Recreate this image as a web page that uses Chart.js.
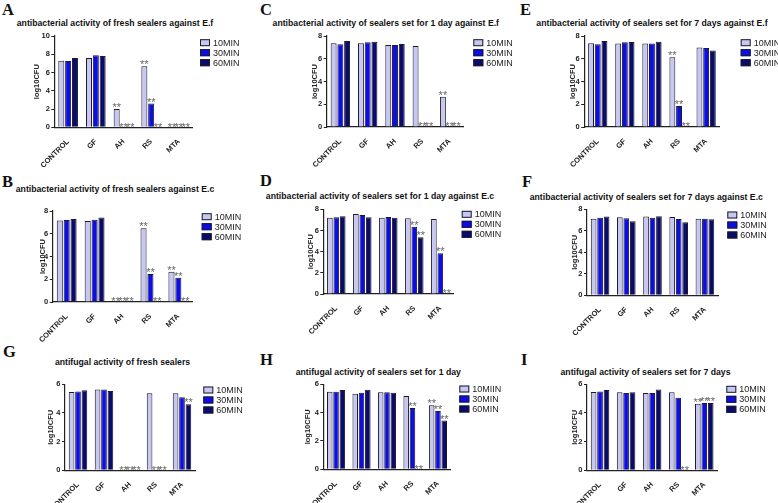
<!DOCTYPE html>
<html>
<head>
<meta charset="utf-8">
<script src="https://cdn.jsdelivr.net/npm/chart.js@4.4.0/dist/chart.umd.min.js"></script>
<style>
  html, body { margin: 0; padding: 0; background: #fff; }
  body { width: 778px; height: 503px; position: relative; overflow: hidden; font-family: "Liberation Sans", Arial, sans-serif; }
  .letter { position: absolute; font-family: "Liberation Serif", "Times New Roman", serif; font-weight: bold; font-size: 16.5px; line-height: 1; color: #111; }
  .title { position: absolute; font-weight: bold; font-size: 8.7px; line-height: 1; color: #111; white-space: nowrap; transform: translate(-50%, -50%); }
  canvas { position: absolute; }
</style>
</head>
<body>
<script>
// shared axis data
const categories = ['CONTROL', 'GF', 'AH', 'RS', 'MTA'];
const seriesNames = ['10MIN', '30MIN', '60MIN'];
const seriesNamesH = ['10MIIN', '30MIN', '60MIN']; // spelled this way in the source figure
const ticks10 = [0, 2, 4, 6, 8, 10];
const ticks8 = [0, 2, 4, 6, 8];
const ticks6 = [0, 2, 4, 6];

// A - fresh sealers, E.f
const a10 = [7.3, 7.6, 2.0, 6.7, 0];
const a30 = [7.25, 7.9, 0, 2.6, 0];
const a60 = [7.6, 7.8, 0, 0, 0];
const aStars = [[0, 0, 1, 1, 1], [0, 0, 1, 1, 1], [0, 0, 1, 1, 1]];

// B - fresh sealers, E.c
const b10 = [7.16, 7.13, 0, 6.48, 2.67];
const b30 = [7.2, 7.22, 0, 2.46, 2.14];
const b60 = [7.3, 7.42, 0, 0, 0];
const bStars = [[0, 0, 1, 1, 1], [0, 0, 1, 1, 1], [0, 0, 1, 1, 1]];

// C - 1 day, E.f
const c10 = [7.36, 7.36, 7.2, 7.13, 2.67];
const c30 = [7.27, 7.45, 7.2, 0, 0];
const c60 = [7.57, 7.5, 7.3, 0, 0];
const cStars = [[0, 0, 0, 0, 1], [0, 0, 0, 1, 1], [0, 0, 0, 1, 1]];

// D - 1 day, E.c
const d10 = [7.2, 7.56, 7.2, 7.15, 7.09];
const d30 = [7.24, 7.46, 7.28, 6.36, 3.84];
const d60 = [7.34, 7.24, 7.2, 5.35, 0];
const dStars = [[0, 0, 0, 0, 0], [0, 0, 0, 1, 1], [0, 0, 0, 1, 1]];

// E - 7 days, E.f
const e10 = [7.36, 7.33, 7.35, 6.13, 7.0];
const e30 = [7.27, 7.45, 7.33, 1.85, 6.95];
const e60 = [7.57, 7.48, 7.5, 0, 6.73];
const eStars = [[0, 0, 0, 1, 0], [0, 0, 0, 1, 0], [0, 0, 0, 1, 0]];

// F - 7 days, E.c
const f10 = [7.13, 7.26, 7.32, 7.29, 7.13];
const f30 = [7.22, 7.16, 7.22, 7.1, 7.13];
const f60 = [7.32, 6.88, 7.35, 6.8, 7.07];
const fStars = [[0, 0, 0, 0, 0], [0, 0, 0, 0, 0], [0, 0, 0, 0, 0]];

// G - antifungal, fresh
const g10 = [5.47, 5.63, 0, 5.37, 5.37];
const g30 = [5.49, 5.63, 0, 0, 5.09];
const g60 = [5.58, 5.53, 0, 0, 4.6];
const gStars = [[0, 0, 1, 0, 0], [0, 0, 1, 1, 0], [0, 0, 1, 1, 1]];

// H - antifungal, 1 day
const h10 = [5.48, 5.34, 5.44, 5.18, 4.52];
const h30 = [5.48, 5.41, 5.44, 4.33, 4.12];
const h60 = [5.6, 5.62, 5.41, 0, 3.44];
const hStars = [[0, 0, 0, 0, 1], [0, 0, 0, 1, 1], [0, 0, 0, 1, 1]];

// I - antifungal, 7 days
const i10 = [5.47, 5.44, 5.4, 5.44, 4.65];
const i30 = [5.49, 5.4, 5.4, 5.07, 4.7];
const i60 = [5.6, 5.44, 5.63, 0, 4.7];
const iStars = [[0, 0, 0, 0, 1], [0, 0, 0, 0, 1], [0, 0, 0, 1, 1]];

const seriesColors = ['#c7c7f2', '#0d0de6', '#0b0b6c'];

// panel layout (page pixels)
const panels = [
  { letter: 'A', lx: 2, ly: 2, title: 'antibacterial activity of fresh sealers against E.f', tx: 115, ty: 22.7,
    axisX: 54.3, top: 35.7, zero: 127.3, right: 192.7, legX: 200, legY: 42.7, ylab: 36.7,
    data: [a10, a30, a60], stars: aStars, ticks: ticks10, names: seriesNames },
  { letter: 'C', lx: 260, ly: 2, title: 'antibacterial activity of sealers set for 1 day against E.f', tx: 385.8, ty: 22.7,
    axisX: 326.7, top: 36, zero: 127, right: 463.3, legX: 473.3, legY: 42.7, ylab: 315,
    data: [c10, c30, c60], stars: cStars, ticks: ticks8, names: seriesNames },
  { letter: 'E', lx: 520, ly: 2, title: 'antibacterial activity of sealers set for 7 days against E.f', tx: 652, ty: 22.7,
    axisX: 583.3, top: 36, zero: 127, right: 719.7, legX: 740.7, legY: 42.7, ylab: 573,
    data: [e10, e30, e60], stars: eStars, ticks: ticks8, names: seriesNames },
  { letter: 'B', lx: 2, ly: 174, title: 'antibacterial activity of fresh sealers against E.c', tx: 115, ty: 189.3,
    axisX: 51.7, top: 211, zero: 302, right: 192.3, legX: 201.7, legY: 216.7, ylab: 41.7,
    data: [b10, b30, b60], stars: bStars, ticks: ticks8, names: seriesNames },
  { letter: 'D', lx: 260, ly: 173, title: 'antibacterial activity of sealers set for 1 day against E.c', tx: 380, ty: 196,
    axisX: 323.3, top: 209.3, zero: 294, right: 453.3, legX: 461.7, legY: 214.3, ylab: 311,
    data: [d10, d30, d60], stars: dStars, ticks: ticks8, names: seriesNames },
  { letter: 'F', lx: 522, ly: 174, title: 'antibacterial activity of sealers set for 7 days against E.c', tx: 646.3, ty: 196.7,
    axisX: 587, top: 209.3, zero: 295.3, right: 718, legX: 727.3, legY: 215, ylab: 575.3,
    data: [f10, f30, f60], stars: fStars, ticks: ticks8, names: seriesNames },
  { letter: 'G', lx: 3, ly: 344, title: 'antifugal activity of fresh sealers', tx: 122.5, ty: 362.3,
    axisX: 65, top: 384.3, zero: 470.3, right: 195, legX: 203.3, legY: 390, ylab: 51,
    data: [g10, g30, g60], stars: gStars, ticks: ticks6, names: seriesNames },
  { letter: 'H', lx: 260, ly: 352, title: 'antifugal activity of sealers set for 1 day', tx: 378.3, ty: 371.7,
    axisX: 323.3, top: 384.3, zero: 469.3, right: 450.7, legX: 459.3, legY: 389, ylab: 308.3,
    data: [h10, h30, h60], stars: hStars, ticks: ticks6, names: seriesNamesH },
  { letter: 'I', lx: 521, ly: 352, title: 'antifugal activity of sealers set for 7 days', tx: 645.5, ty: 372.3,
    axisX: 587, top: 384.3, zero: 470.3, right: 717.3, legX: 726.3, legY: 389.3, ylab: 575.3,
    data: [i10, i30, i60], stars: iStars, ticks: ticks6, names: seriesNames }
];

function makePanel(p) {
  const letter = document.createElement('div');
  letter.className = 'letter';
  letter.style.left = p.lx + 'px';
  letter.style.top = p.ly + 'px';
  letter.textContent = p.letter;
  document.body.appendChild(letter);

  const title = document.createElement('div');
  title.className = 'title';
  title.style.left = p.tx + 'px';
  title.style.top = p.ty + 'px';
  title.textContent = p.title;
  document.body.appendChild(title);

  // canvas box so that the chart area lands on the reference axes
  const left = Math.round(p.ylab - 5);
  const top = Math.round(p.top - 6);
  const yW = p.axisX - left;
  const padTop = p.top - top;
  const h = Math.round(p.zero - top + 40);
  const xH = h - (p.zero - top);
  const w = Math.round(p.right - left + 70);
  const padRight = w - (p.right - left);

  const canvas = document.createElement('canvas');
  canvas.width = w;
  canvas.height = h;
  canvas.style.left = left + 'px';
  canvas.style.top = top + 'px';
  canvas.style.width = w + 'px';
  canvas.style.height = h + 'px';
  document.body.appendChild(canvas);

  // "**" marks above significant bars
  const starPlugin = {
    id: 'stars',
    afterDatasetsDraw(chart) {
      const ctx = chart.ctx;
      ctx.save();
      ctx.fillStyle = '#666';
      ctx.font = '11px "Liberation Sans", Arial, sans-serif';
      ctx.textAlign = 'center';
      ctx.textBaseline = 'alphabetic';
      chart.data.datasets.forEach((ds, i) => {
        const meta = chart.getDatasetMeta(i);
        meta.data.forEach((bar, j) => {
          if (!p.stars[i][j]) return;
          const y = ds.data[j] === 0 ? bar.y + 3.2 : bar.y + 2;
          ctx.fillText('**', bar.x, y);
        });
      });
      ctx.restore();
    }
  };

  // legend boxes at the right of the plot
  const legendPlugin = {
    id: 'sideLegend',
    afterDraw(chart) {
      const ctx = chart.ctx;
      const x0 = p.legX - left;
      const y0 = p.legY - top;
      ctx.save();
      ctx.font = '9px "Liberation Sans", Arial, sans-serif';
      ctx.textBaseline = 'middle';
      chart.data.datasets.forEach((ds, i) => {
        const y = y0 + i * 10;
        ctx.fillStyle = ds.backgroundColor;
        ctx.fillRect(x0, y - 3.5, 10, 7);
        ctx.strokeStyle = '#1a1a2a';
        ctx.lineWidth = 1;
        ctx.strokeRect(x0 + 0.5, y - 3, 9, 6);
        ctx.fillStyle = '#222';
        ctx.fillText(ds.label, x0 + 13, y + 0.5);
      });
      ctx.restore();
    }
  };

  new Chart(canvas, {
    type: 'bar',
    data: {
      labels: categories,
      datasets: p.data.map((vals, i) => ({
        label: p.names[i],
        data: vals,
        backgroundColor: seriesColors[i],
        borderColor: '#1a1a2a',
        borderWidth: 1,
        categoryPercentage: 0.74,
        barPercentage: 0.88
      }))
    },
    options: {
      responsive: false,
      animation: false,
      layout: { padding: { top: padTop, right: padRight, left: 0, bottom: 0 } },
      plugins: { legend: { display: false }, tooltip: { enabled: false } },
      scales: {
        x: {
          offset: true,
          grid: { display: false },
          border: { color: '#222', width: 1.2 },
          ticks: {
            autoSkip: false, minRotation: 45, maxRotation: 45, padding: 2,
            color: '#222', font: { size: 7.5, weight: 'bold', family: '"Liberation Sans", Arial, sans-serif' }
          },
          afterFit: (s) => { s.height = xH; }
        },
        y: {
          min: 0,
          max: p.ticks[p.ticks.length - 1],
          afterBuildTicks: (s) => { s.ticks = p.ticks.map(v => ({ value: v })); },
          grid: { drawOnChartArea: false, tickLength: 3, color: '#222', lineWidth: 1 },
          border: { color: '#222', width: 1.2 },
          ticks: {
            padding: 1.5, color: '#222',
            font: { size: 7.5, weight: 'bold', family: '"Liberation Sans", Arial, sans-serif' }
          },
          title: {
            display: true, text: 'log10CFU', color: '#222', padding: 0,
            font: { size: 7.5, weight: 'bold', lineHeight: 1.2, family: '"Liberation Sans", Arial, sans-serif' }
          },
          afterFit: (s) => { s.width = yW; }
        }
      }
    },
    plugins: [starPlugin, legendPlugin]
  });
}

panels.forEach(makePanel);
</script>
</body>
</html>
